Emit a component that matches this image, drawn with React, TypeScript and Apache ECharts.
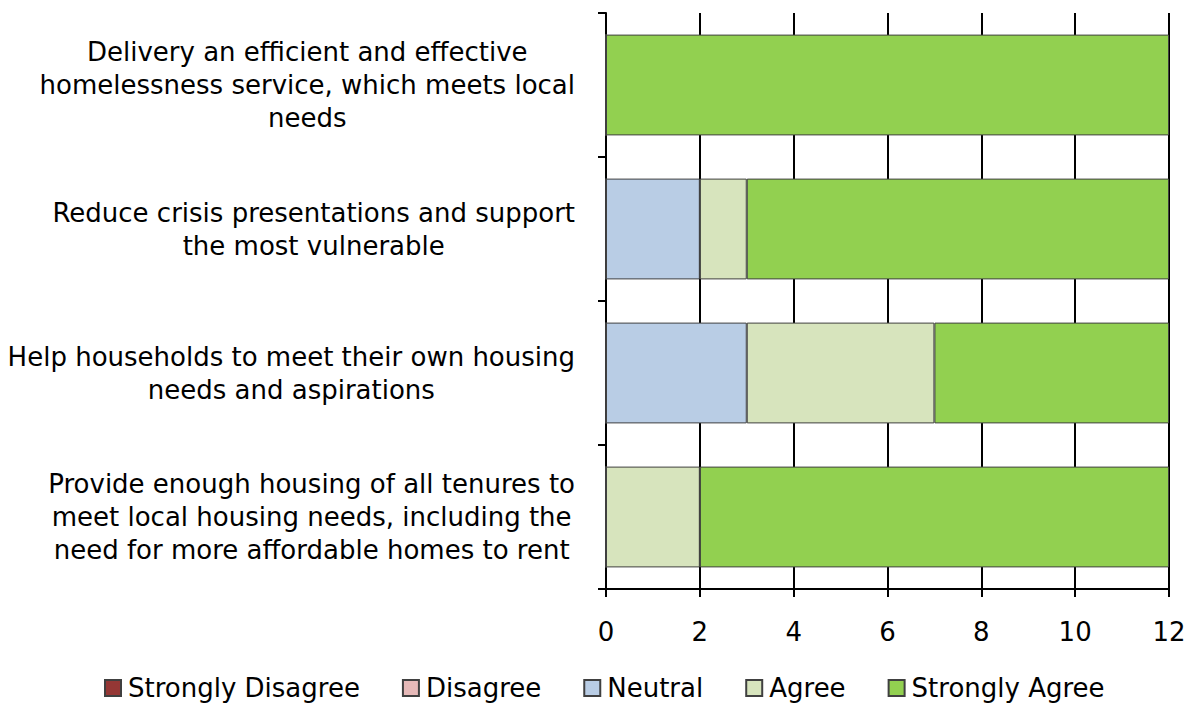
import React, { useEffect, useRef } from "react";
import * as echarts from "echarts";

const categories = [
  "Delivery an efficient and effective\nhomelessness service, which meets local\nneeds",
  "Reduce crisis presentations and support\nthe most vulnerable",
  "Help households to meet their own housing\nneeds and aspirations",
  "Provide enough housing of all tenures to\nmeet local housing needs, including the\nneed for more affordable homes to rent",
];
const seriesNames = ["Strongly Disagree", "Disagree", "Neutral", "Agree", "Strongly Agree"];
const stronglyDisagree = [0, 0, 0, 0];
const disagree = [0, 0, 0, 0];
const neutral = [0, 2, 3, 0];
const agree = [0, 1, 4, 2];
const stronglyAgree = [12, 9, 5, 10];
const colors = ["#953735", "#E6B9B8", "#B9CDE5", "#D7E4BD", "#92D050"];

export default function App() {
  const ref = useRef<HTMLDivElement>(null);
  useEffect(() => {
    document.body.style.margin = "0";
    const chart = echarts.init(ref.current!, null, { renderer: "svg" });
    const values = [stronglyDisagree, disagree, neutral, agree, stronglyAgree];
    const font = "'DejaVu Sans', sans-serif";
    const fs = 26;
    chart.setOption({
      animation: false,
      textStyle: { fontFamily: font },
      grid: { left: 606, right: 30, top: 13, bottom: 116, containLabel: false },
      legend: {
        left: 104,
        top: 673,
        padding: 0,
        itemWidth: 16,
        itemHeight: 16,
        itemGap: 42,
        icon: "rect",
        textStyle: { fontSize: fs, lineHeight: 30, color: "#000", fontFamily: font, padding: [0, 0, 0, 2] },
        data: seriesNames,
      },
      xAxis: {
        type: "value",
        min: 0,
        max: 12,
        interval: 2,
        axisLine: { show: true, lineStyle: { color: "#000", width: 2 } },
        axisTick: { show: true, length: 8, lineStyle: { color: "#000", width: 2 } },
        splitLine: { show: true, lineStyle: { color: "#000", width: 2 } },
        axisLabel: { fontSize: fs, color: "#000", margin: 30, fontFamily: font },
      },
      yAxis: {
        type: "category",
        inverse: true,
        data: categories,
        axisLine: { show: true, lineStyle: { color: "#000", width: 2 } },
        axisTick: { show: true, length: 8, lineStyle: { color: "#000", width: 2 } },
        axisLabel: {
          fontSize: fs,
          color: "#000",
          margin: 31,
          lineHeight: 33,
          fontFamily: font,
          formatter: (v: string) =>
            v.split("\n").map((l) => "{c|" + l + "}").join("\n"),
          rich: {
            c: { align: "center", fontSize: fs, lineHeight: 33, color: "#000", fontFamily: font },
          },
        },
      },
      series: seriesNames.map((name, i) => ({
        name,
        type: "bar",
        stack: "total",
        barCategoryGap: "30%",
        data: values[i],
        itemStyle: { color: colors[i], borderColor: "#404040", borderWidth: 1 },
      })),
    });
    return () => chart.dispose();
  }, []);
  return <div ref={ref} style={{ width: 1199, height: 705 }} />;
}
